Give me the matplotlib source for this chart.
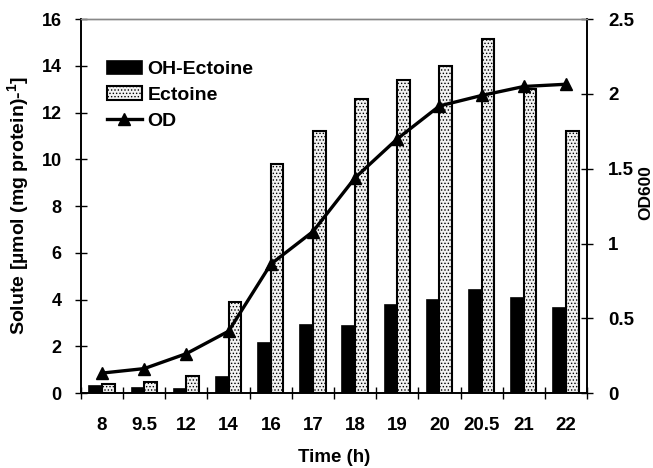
import numpy as np
import matplotlib.pyplot as plt

plt.rcParams['font.family'] = ['Liberation Sans', 'DejaVu Sans']
plt.rcParams['font.weight'] = 'bold'
plt.rcParams['mathtext.fontset'] = 'custom'
plt.rcParams['mathtext.bf'] = 'Liberation Sans:bold'
plt.rcParams['mathtext.default'] = 'bf'
plt.rcParams['hatch.linewidth'] = 0.6

# data
times = ['8', '9.5', '12', '14', '16', '17', '18', '19', '20', '20.5', '21', '22']
oh_ectoine = [0.29, 0.21, 0.17, 0.69, 2.15, 2.93, 2.86, 3.76, 4.0, 4.42, 4.05, 3.65]
ectoine = [0.39, 0.49, 0.75, 3.88, 9.8, 11.2, 12.6, 13.38, 14.0, 15.14, 13.02, 11.2]
od600 = [0.134, 0.164, 0.264, 0.414, 0.862, 1.08, 1.44, 1.70, 1.92, 1.99, 2.05, 2.065]

narrow = ['Liberation Sans Narrow', 'Liberation Sans']

x = np.arange(len(times))
w = 0.3

fig = plt.figure(figsize=(6.53, 4.68), dpi=100)
ax = fig.add_axes([0.124, 0.160, 0.775, 0.799])
ax2 = ax.twinx()

b1 = ax.bar(x - w/2, oh_ectoine, w, color='black', edgecolor='black', linewidth=1.2, label='OH-Ectoine')
b2 = ax.bar(x + w/2, ectoine, w, color='#f2f2f2', edgecolor='black', hatch='.....',
            linewidth=1.5, label='Ectoine')
l1, = ax2.plot(x, od600, color='black', linewidth=2.4, marker='^', markersize=8.5, label='OD')

ax.set_xlim(-0.5, len(times) - 0.5)
ax.set_ylim(0, 16)
ax2.set_ylim(0, 2.5)
ax.set_yticks(np.arange(0, 17, 2))
ax2.set_yticks([0, 0.5, 1, 1.5, 2, 2.5])
ax2.set_yticklabels(['0', '0.5', '1', '1.5', '2', '2.5'], family=narrow)

ax.set_xticks(x)
ax.set_xticklabels(times, family=narrow)
ax.set_xticks(np.arange(-0.5, len(times)), minor=True)
ax.tick_params(axis='x', which='major', length=0, pad=17, labelsize=13.5)
ax.tick_params(axis='x', which='minor', direction='inout', length=8, width=1)
ax.tick_params(axis='y', direction='inout', length=8, width=1, labelsize=13, pad=10)
ax2.tick_params(axis='y', direction='inout', length=8, width=1, labelsize=13.5, pad=11)

for a in (ax, ax2):
    a.spines['top'].set_color('#888888')
    a.spines['top'].set_linewidth(1)
    for s in ('left', 'right', 'bottom'):
        a.spines[s].set_linewidth(1.2)

ax.set_xlabel('Time (h)', fontsize=13.5, fontweight='bold', family=narrow, labelpad=11)
ax.set_ylabel('Solute [µmol (mg protein)-$^{1}$]', fontsize=14, fontweight='bold')
ax.yaxis.set_label_coords(-0.098, 0.5)
ax2.set_ylabel('OD600', fontsize=12.5, fontweight='bold')
ax2.yaxis.set_label_coords(1.102, 0.537)

ax.legend([b1, b2, l1], ['OH-Ectoine', 'Ectoine', 'OD'], loc='upper left',
          bbox_to_anchor=(0.032, 0.915), frameon=False, handlelength=1.8,
          handletextpad=0.3, labelspacing=0.42, borderpad=0,
          prop={'family': 'Liberation Sans', 'weight': 'bold', 'size': 14})

fig.savefig('out.png', dpi=100)
